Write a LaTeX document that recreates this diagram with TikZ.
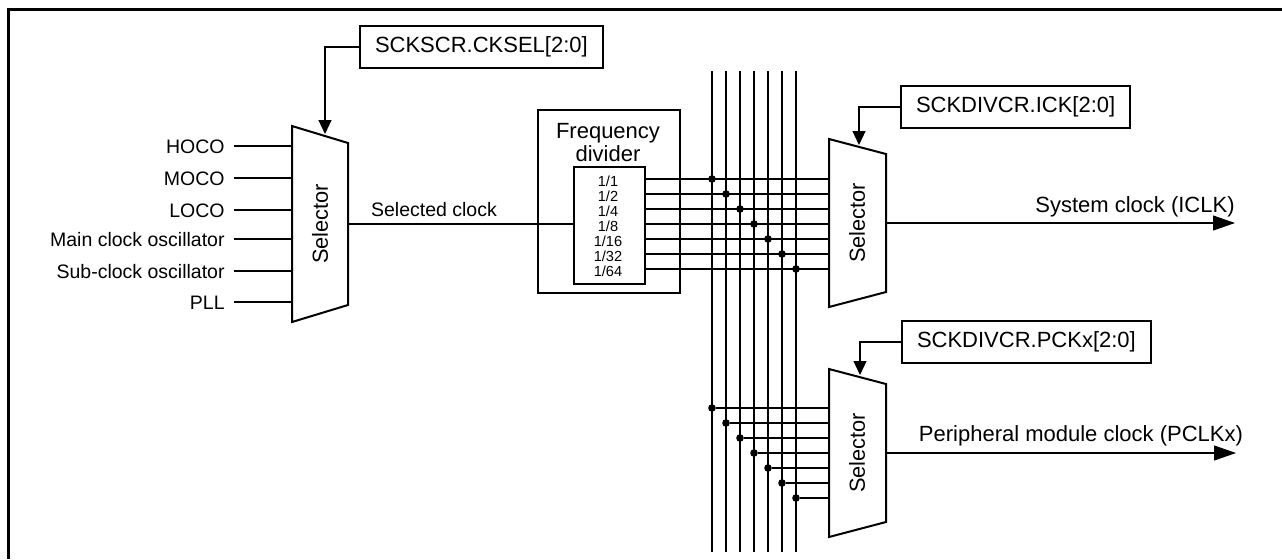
\documentclass[tikz,border=0pt]{standalone}
\usepackage{fontspec}
\setmainfont{Liberation Sans}
\usepackage{tikz}
\usetikzlibrary{positioning,arrows.meta,calc}
\tikzset{
  lbl/.style={font=\fontsize{9.75}{11}\selectfont, inner sep=0pt, text height=0.7em, text depth=0pt},
  biglbl/.style={font=\fontsize{11}{12}\selectfont, inner sep=0pt},
  regbox/.style={draw, line width=1pt, font=\fontsize{11}{12}\selectfont, minimum height=21pt, inner xsep=7.5pt, anchor=west},
  ratio/.style={font=\fontsize{7.3}{7.5}\selectfont, inner sep=0pt, text height=0.7em, text depth=0pt},
}

\begin{document}
\begin{tikzpicture}[x=0.5pt, y=-0.5pt,
  wire/.style={line width=0.55pt},
  bus/.style={line width=0.7pt},
  junc/.style={circle, fill, inner sep=0pt, minimum size=3.8pt},
  selbox/.style={line width=1pt, line join=miter},
  selname/.style={font=\fontsize{10.9}{12}\selectfont, inner sep=0pt, rotate=90},
  ctrl/.style={-{Triangle[length=7pt, width=6.5pt]}, line width=0.55pt},
  outw/.style={-{Triangle[length=11pt, width=7.5pt]}, line width=0.55pt}]
\useasboundingbox (0,0) rectangle (1282,559);
\draw[line width=1.5pt, line join=miter] (8.5,559) -- (8.5,9.5) -- (1282,9.5);
% clock source selector
\draw[selbox] (292,126) -- (348,143) -- (348,305) -- (292,322) -- cycle;
\node[selname] (sel1) at (320,224) {Selector};
\coordinate (s1w) at (292,224); \coordinate (s1o) at (348,224); \coordinate (s1c) at (325,134);
\node[lbl, anchor=east] (hoco) at (225,146) {HOCO};
\node[lbl, anchor=east] (moco) at (225,178) {MOCO};
\node[lbl, anchor=east] (loco) at (225,210) {LOCO};
\node[lbl, anchor=east] (mosc) at (225,239) {Main clock oscillator};
\node[lbl, anchor=east] (sosc) at (225,271) {Sub-clock oscillator};
\node[lbl, anchor=east] (pll) at (225,302) {PLL};
\draw[wire] ([xshift=4.5pt]hoco.east) -- (hoco.east -| s1w); \draw[wire] ([xshift=4.5pt]moco.east) -- (moco.east -| s1w);
\draw[wire] ([xshift=4.5pt]loco.east) -- (loco.east -| s1w); \draw[wire] ([xshift=4.5pt]mosc.east) -- (mosc.east -| s1w);
\draw[wire] ([xshift=4.5pt]sosc.east) -- (sosc.east -| s1w); \draw[wire] ([xshift=4.5pt]pll.east) -- (pll.east -| s1w);
\node[regbox] (cksel) at (359,47) {SCKSCR.CKSEL[2:0]};
\draw[ctrl] (cksel.west) -| (s1c);
% divider
\node[draw, line width=1pt, minimum width=71pt, minimum height=91.5pt, anchor=north west] (fdiv) at (537,109) {};
\node[biglbl, align=center, anchor=north, font=\fontsize{11}{10}\selectfont] (fdivt) at (608,123) {Frequency\\divider};
\node[draw, line width=1pt, minimum width=35.5pt, minimum height=58.5pt, anchor=north west] (rbox) at (573,166) {};
\draw[wire] (s1o) -- (s1o -| rbox.west);
\node[lbl, anchor=base] (selclk) at (434,216) {Selected clock};
\node[ratio] (r1) at (608,179) {1/1}; \node[ratio] (r2) at (608,194) {1/2}; \node[ratio] (r3) at (608,209) {1/4};
\node[ratio] (r4) at (608,224) {1/8}; \node[ratio] (r5) at (608,239) {1/16}; \node[ratio] (r6) at (608,254) {1/32};
\node[ratio] (r7) at (608,269) {1/64};
% bus
\coordinate (bustop) at (0,71); \coordinate (busbot) at (0,552);
\node[junc] (d1) at (712,179) {}; \node[junc] (d2) at (726,194) {}; \node[junc] (d3) at (740,209) {};
\node[junc] (d4) at (754,224) {}; \node[junc] (d5) at (768,239) {}; \node[junc] (d6) at (782,254) {};
\node[junc] (d7) at (796,269) {};
\draw[bus] (d1 |- bustop) -- (d1 |- busbot); \draw[bus] (d2 |- bustop) -- (d2 |- busbot);
\draw[bus] (d3 |- bustop) -- (d3 |- busbot); \draw[bus] (d4 |- bustop) -- (d4 |- busbot);
\draw[bus] (d5 |- bustop) -- (d5 |- busbot); \draw[bus] (d6 |- bustop) -- (d6 |- busbot);
\draw[bus] (d7 |- bustop) -- (d7 |- busbot);
% system clock selector
\draw[selbox] (829,139) -- (886,154) -- (886,292) -- (829,307) -- cycle;
\node[selname] (sel2) at (857,223) {Selector};
\coordinate (s2w) at (829,223); \coordinate (s2o) at (886,223); \coordinate (s2c) at (859,145);
\draw[wire] (rbox.east |- d1) -- (d1 -| s2w); \draw[wire] (rbox.east |- d2) -- (d2 -| s2w);
\draw[wire] (rbox.east |- d3) -- (d3 -| s2w); \draw[wire] (rbox.east |- d4) -- (d4 -| s2w);
\draw[wire] (rbox.east |- d5) -- (d5 -| s2w); \draw[wire] (rbox.east |- d6) -- (d6 -| s2w);
\draw[wire] (rbox.east |- d7) -- (d7 -| s2w);
\node[regbox] (ick) at (900,107) {SCKDIVCR.ICK[2:0]};
\draw[ctrl] (ick.west) -| (s2c);
\coordinate (iclk) at (1235,223);
\draw[outw] (s2o) -- (iclk);
\node[biglbl, anchor=base] (iclkt) at (1135,212) {System clock (ICLK)};
% peripheral clock selector
\draw[selbox] (829,369) -- (886,384) -- (886,522) -- (829,537) -- cycle;
\node[selname] (sel3) at (857,453) {Selector};
\coordinate (s3w) at (829,453); \coordinate (s3o) at (886,453); \coordinate (s3c) at (860,375);
\node[junc] (p1) at (712,408) {}; \node[junc] (p2) at (726,423) {}; \node[junc] (p3) at (740,438) {};
\node[junc] (p4) at (754,453) {}; \node[junc] (p5) at (768,468) {}; \node[junc] (p6) at (782,483) {};
\node[junc] (p7) at (796,498) {};
\draw[wire] (p1) -- (p1 -| s3w); \draw[wire] (p2) -- (p2 -| s3w); \draw[wire] (p3) -- (p3 -| s3w);
\draw[wire] (p4) -- (p4 -| s3w); \draw[wire] (p5) -- (p5 -| s3w); \draw[wire] (p6) -- (p6 -| s3w);
\draw[wire] (p7) -- (p7 -| s3w);
\node[regbox] (pck) at (901,342) {SCKDIVCR.PCKx[2:0]};
\draw[ctrl] (pck.west) -| (s3c);
\coordinate (pclk) at (1236,453);
\draw[outw] (s3o) -- (pclk);
\node[biglbl, anchor=base] (pclkt) at (1081,441) {Peripheral module clock (PCLKx)};
\end{tikzpicture}
\end{document}
